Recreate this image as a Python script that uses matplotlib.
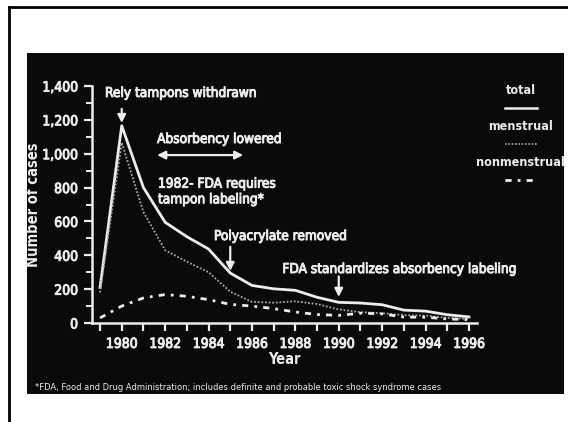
"""
Toxic shock syndrome cases by year, recreated as a dark slide chart.
"""

import matplotlib
matplotlib.use("Agg")

import matplotlib.pyplot as plt
import matplotlib.patheffects as pe
from matplotlib.lines import Line2D
from matplotlib.patches import Rectangle
from matplotlib.ticker import MultipleLocator


# ------------------------------------------------------------
# Data
# ------------------------------------------------------------

YEARS = list(range(1979, 1997))

TOTAL = [210, 1165, 800, 595, 510, 437, 295, 222, 202, 193,
         152, 122, 118, 108, 76, 70, 49, 36]
MENSTRUAL = [180, 1065, 655, 430, 362, 300, 185, 125, 120, 128,
             112, 80, 64, 58, 46, 44, 30, 24]
NONMENSTRUAL = [30, 100, 148, 168, 158, 138, 110, 100, 85, 65,
                50, 45, 58, 54, 35, 34, 24, 20]

Y_TICKS = [0, 200, 400, 600, 800, 1000, 1200, 1400]
X_LABEL_YEARS = list(range(1980, 1997, 2))

FOOTNOTE = ("*FDA, Food and Drug Administration; includes definite and "
            "probable toxic shock syndrome cases")


# ------------------------------------------------------------
# Style
# ------------------------------------------------------------

W, H = 568, 422
FG = "#ececec"
plt.rcParams["font.family"] = ["DejaVu Sans"]
plt.rcParams["font.stretch"] = "condensed"

# slight stroke to mimic the heavy, blurry slide lettering
HEAVY = [pe.withStroke(linewidth=0.7, foreground=FG)]


def fx(px):
    return px / W


def fy(py):
    return 1 - py / H


def main():
    fig = plt.figure(figsize=(W / 100, H / 100), dpi=100, facecolor="white")

    # black slide and outer frame
    fig.patches.append(Rectangle((fx(27), fy(394)), fx(564) - fx(27),
                                 fy(53) - fy(394), transform=fig.transFigure,
                                 facecolor="#0a0a0a", edgecolor="none",
                                 zorder=-5))
    fig.add_artist(Line2D([fx(9), fx(9)], [fy(7), 0], color="black",
                          lw=2, transform=fig.transFigure, zorder=-4))
    fig.add_artist(Line2D([fx(9), 1], [fy(7), fy(7)], color="black",
                          lw=2, transform=fig.transFigure, zorder=-4))

    ax = fig.add_axes([fx(92), fy(323), fx(477) - fx(92), fy(86) - fy(323)])
    ax.set_zorder(2)
    ax.set_facecolor("none")
    ax.set_xlim(1978.63, 1996.37)
    ax.set_ylim(0, 1400)

    ax.plot(YEARS, TOTAL, color=FG, lw=2, clip_on=False)
    ax.plot(YEARS, MENSTRUAL, color="#a8a8a8", lw=1.3,
            linestyle=(0, (1, 1)), clip_on=False)
    ax.plot(YEARS, NONMENSTRUAL, color=FG, lw=2,
            linestyle=(0, (2.2, 2.2, 1, 2.2)), clip_on=False)

    for side in ["top", "right"]:
        ax.spines[side].set_visible(False)
    for side in ["left", "bottom"]:
        ax.spines[side].set_color(FG)
        ax.spines[side].set_linewidth(1.8)

    ax.set_xticks(YEARS)
    ax.set_xticklabels([str(y) if y in X_LABEL_YEARS else "" for y in YEARS])
    ax.set_yticks(Y_TICKS)
    ax.set_yticklabels([f"{v:,}" for v in Y_TICKS])
    ax.yaxis.set_minor_locator(MultipleLocator(100))
    ax.tick_params(axis="both", colors=FG, width=1.6, length=6,
                   labelsize=10, direction="out")
    ax.tick_params(axis="y", which="minor", colors=FG, width=1.4, length=4)
    ax.tick_params(axis="x", pad=4)
    ax.tick_params(axis="y", pad=4)
    for label in ax.get_xticklabels() + ax.get_yticklabels():
        label.set_path_effects(HEAVY)

    ax.set_xlabel("Year", color=FG, fontsize=10.5, fontweight="bold",
                  labelpad=1)
    ax.set_ylabel("Number of cases", color=FG, fontsize=10.5,
                  fontweight="bold", va="center")
    ax.yaxis.set_label_coords((33 - 92) / 385, 0.5)

    # annotations
    text_kw = dict(color=FG, fontsize=9.8, va="center", ha="left",
                   path_effects=HEAVY)
    arrow_kw = dict(arrowstyle="-|>", color=FG, lw=1.6,
                    mutation_scale=12, shrinkA=0, shrinkB=0)

    ax.text(1979.23, 1359, "Rely tampons withdrawn", **text_kw)
    ax.annotate("", xy=(1980, 1181), xytext=(1980, 1265),
                arrowprops=arrow_kw)

    ax.text(1981.63, 1087, "Absorbency lowered", **text_kw)
    ax.annotate("", xy=(1985.6, 992), xytext=(1981.63, 992),
                arrowprops=dict(arrow_kw, arrowstyle="<|-|>"))

    ax.text(1981.67, 777, "1982- FDA requires\ntampon labeling*",
            linespacing=1.15, **text_kw)

    ax.text(1984.25, 514, "Polyacrylate removed", **text_kw)
    ax.annotate("", xy=(1985, 307), xytext=(1985, 450),
                arrowprops=arrow_kw)

    ax.text(1987.4, 319, "FDA standardizes absorbency labeling", **text_kw)
    ax.annotate("", xy=(1990, 154), xytext=(1990, 275),
                arrowprops=arrow_kw)

    # legend drawn as a slide key
    key_kw = dict(color=FG, fontsize=9, ha="center", va="center",
                  fontweight="bold")
    fig.text(fx(521), fy(91), "total", **key_kw)
    fig.add_artist(Line2D([fx(505), fx(537)], [fy(108), fy(108)], color=FG,
                          lw=1.8, transform=fig.transFigure))
    fig.text(fx(521), fy(127), "menstrual", **key_kw)
    fig.add_artist(Line2D([fx(505), fx(537)], [fy(144), fy(144)],
                          color="#a8a8a8", lw=1.2, linestyle=(0, (1, 1)),
                          transform=fig.transFigure))
    fig.text(fx(520), fy(163), "nonmenstrual", **key_kw)
    fig.add_artist(Line2D([fx(505), fx(535)], [fy(180), fy(180)], color=FG,
                          lw=2, linestyle=(0, (2.2, 2.2, 1, 2.2)),
                          transform=fig.transFigure))

    fig.text(fx(35), fy(387), FOOTNOTE, color=FG, fontsize=6.7,
             ha="left", va="center")

    fig.savefig("out.png", dpi=100, facecolor="white")


if __name__ == "__main__":
    main()
